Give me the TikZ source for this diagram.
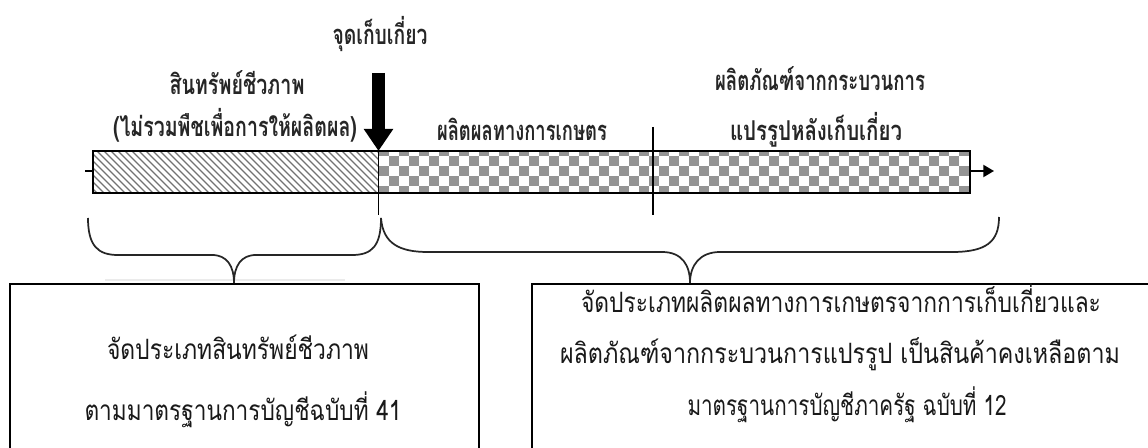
\documentclass[tikz,border=0pt]{standalone}
\usepackage{graphicx}
\usepackage{fontspec}
\newfontfamily\thaifont[Script=Thai]{Loma}
\usetikzlibrary{arrows.meta}
\newcommand\fitw[2]{\setbox0=\hbox{#2}\pgfmathsetmacro\fitf{#1*0.75/\the\wd0}\scalebox{\fitf}[1]{\box0}}
\tikzset{
  toplabel/.style={font=\thaifont\bfseries\fontsize{20.5}{24}\selectfont, text=black!85, inner sep=0pt, anchor=base},
  boxtext/.style={font=\thaifont\fontsize{21}{24}\selectfont, text=black!90, inner sep=0pt, anchor=base},
  boxframe/.style={draw=black, line width=1.5pt},
  brace/.style={draw=black!85, line width=1.3pt},
  divider/.style={draw=black, line width=1.1pt},
}
\begin{document}
\begin{tikzpicture}[x=0.75pt,y=-0.75pt]
\useasboundingbox (0,0) rectangle (1148,448);
\fill[white] (0,0) rectangle (1148,448);
% hatched part of the bar
\begin{scope}
  \clip (93,151) rectangle (378.5,193);
  \foreach \x in {-50,-43,...,380} \draw[black!55, line width=1pt] (\x,151) -- (\x+42,193);
\end{scope}
% checker part of the bar
\begin{scope}
  \clip (378.5,151) rectangle (970,193);
  \foreach \i in {0,...,60}{
    \foreach \j in {0,...,4}{
      \pgfmathtruncatemacro\k{mod(\i+\j,2)}
      \ifnum\k=0 \fill[black!42] ({378.5+\i*10},{146+\j*10}) rectangle +(10,10); \fi
    }
  }
\end{scope}
\draw[line width=1.5pt] (93,151) rectangle (970,193);
% left tick and right arrow
\coordinate (tickL) at (85,171);
\coordinate (barL) at (93,171);
\coordinate (barR) at (970,171);
\coordinate (arrowEnd) at (994,171);
\draw[line width=2pt] (tickL) -- (barL);
\draw[line width=1.5pt, -{Triangle[length=8pt,width=9pt]}] (barR) -- (arrowEnd);
% dividers
\coordinate (harvTop) at (378.5,73);
\coordinate (harvTip) at (378.5,151);
\coordinate (harvBot) at (378.5,215);
\coordinate (procTop) at (653,127);
\coordinate (procBot) at (653,215);
\draw[divider] (harvTip) -- (harvBot);
\draw[divider] (procTop) -- (procBot);
% harvest arrow
\draw[line width=9.75pt, -{Triangle[length=16.5pt,width=21pt]}] (harvTop) -- (harvTip);
% labels above
\node[toplabel] (harvest) at (380,45) {\fitw{95}{จุดเก็บเกี่ยว}};
\node[toplabel] (bio1) at (237,95) {\fitw{135}{สินทรัพย์ชีวภาพ}};
\node[toplabel] (bio2) at (235,137) {\fitw{244}{(ไม่รวมพืชเพื่อการให้ผลิตผล)}};
\node[toplabel] (agri) at (522,141) {\fitw{170}{ผลิตผลทางการเกษตร}};
\node[toplabel] (proc1) at (820,91) {\fitw{210}{ผลิตภัณฑ์จากกระบวนการ}};
\node[toplabel] (proc2) at (816,141) {\fitw{172}{แปรรูปหลังเก็บเกี่ยว}};
% boxes
\node[boxframe, minimum width=351.75pt, minimum height=150pt, anchor=north west, inner sep=0pt] (boxL) at (9,283) {};
\node[boxframe, minimum width=480pt, minimum height=150pt, anchor=north west, inner sep=0pt] (boxR) at (531,283) {};
% braces
\draw[black!8, line width=1.2pt] (105,280) -- (345,280);
\draw[brace] (88,218) .. controls (88,246) and (98,255) .. (118,255) -- (212,255)
  .. controls (227,255) and (234,266) .. (boxL.north -| 234,283);
\draw[brace] (boxL.north -| 234,283) .. controls (234,266) and (241,255) .. (256,255) -- (352,255)
  .. controls (372,255) and (381,246) .. (381,218);
\draw[brace] (381,218) .. controls (383,244) and (400,252) .. (428,252) -- (662,252)
  .. controls (682,252) and (690,265) .. (boxR.north -| 690,283);
\draw[brace] (boxR.north -| 690,283) .. controls (690,265) and (700,252) .. (720,252) -- (952,252)
  .. controls (986,252) and (999,242) .. (999,217);
% box texts
\node[boxtext] (l1) at (238,360) {\fitw{262}{จัดประเภทสินทรัพย์ชีวภาพ}};
\node[boxtext] (l2) at (243,421) {\fitw{317}{ตามมาตรฐานการบัญชีฉบับที่ 41}};
\node[boxtext] (r1) at (841,313) {\fitw{520}{จัดประเภทผลิตผลทางการเกษตรจากการเก็บเกี่ยวและ}};
\node[boxtext] (r2) at (840,364) {\fitw{560}{ผลิตภัณฑ์จากกระบวนการแปรรูป เป็นสินค้าคงเหลือตาม}};
\node[boxtext] (r3) at (847,415) {\fitw{319}{มาตรฐานการบัญชีภาครัฐ ฉบับที่ 12}};
\end{tikzpicture}
\end{document}
